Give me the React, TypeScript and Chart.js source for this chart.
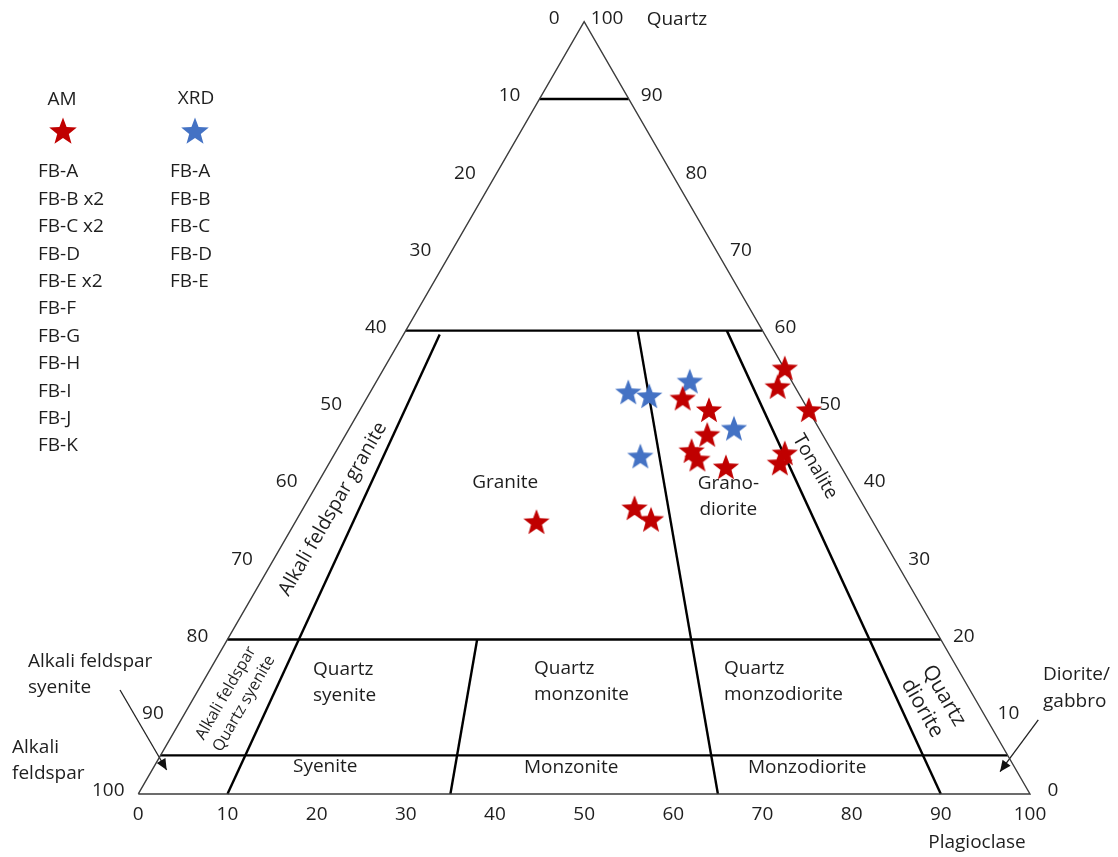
import React, { useEffect, useRef } from "react";
import { Chart, registerables } from "chart.js";

Chart.register(...registerables);

const FONT = '"Open Sans", "Noto Sans", sans-serif';
const TEXT_COLOR = "#1e1e1e";
const RED = "#C00000";
const BLUE = "#4472C4";

// ---------- data: modal composition in % (Quartz, Alkali feldspar, Plagioclase) ----------
const amQuartz = [55, 52.6, 49.6, 44, 42.7, 51.1, 49.6, 46.4, 44.3, 43.2, 42.2, 36.9, 35.4, 35.1];
const amAlkali = [0, 2, 0, 5.5, 6.7, 13.4, 11.2, 13, 15.8, 15.7, 13, 25.9, 24.8, 37.8];
const amPlag = [45, 45.4, 50.4, 50.5, 50.6, 35.5, 39.2, 40.6, 39.9, 41.1, 44.8, 37.2, 39.8, 27.1];

const xrdQuartz = [51.9, 51.4, 53.3, 47.2, 43.6];
const xrdAlkali = [19.1, 17, 11.5, 9.6, 21.9];
const xrdPlag = [29, 31.6, 35.2, 43.2, 34.5];

const legendAM = ["FB-A", "FB-B x2", "FB-C x2", "FB-D", "FB-E x2", "FB-F", "FB-G", "FB-H", "FB-I", "FB-J", "FB-K"];
const legendXRD = ["FB-A", "FB-B", "FB-C", "FB-D", "FB-E"];

// QAPF field boundaries
const quartzLevels = [90, 60, 20, 5];
const plagRatios = [10, 35, 65, 90];
const plagRatioTopQ = [59.5, 20, 60, 60];

// tick values
const sideTicks = [100, 90, 80, 70, 60, 50, 40, 30, 20, 10, 0];
const bottomTicks = [0, 10, 20, 30, 40, 50, 60, 70, 80, 90, 100];

// ---------- layout ----------
const W = 1118;
const HGT = 857;
const X_MIN = -15.51;
const X_MAX = 109.87;
const Y_MIN = -7.07;
const Y_MAX = 89.04;
const SQ3 = Math.sqrt(3) / 2;
const BASE_SIZE = 19;

type Lbl = { lines: string[]; x: number; y: number; rot: number; size: number; align: "center" | "left"; lh: number };

const fieldLabels: Lbl[] = [
  { lines: ["Granite"], x: 41.14, y: 34.88, rot: 0, size: BASE_SIZE, align: "center", lh: 26 },
  { lines: ["Grano-", "diorite"], x: 66.17, y: 33.31, rot: 0, size: BASE_SIZE, align: "center", lh: 26 },
  { lines: ["Tonalite"], x: 75.89, y: 36.71, rot: 60, size: BASE_SIZE, align: "center", lh: 26 },
  { lines: ["Alkali feldspar granite"], x: 21.83, y: 31.96, rot: -60, size: 19.5, align: "center", lh: 26 },
  { lines: ["Alkali feldspar", "Quartz syenite"], x: 10.84, y: 10.71, rot: -60, size: 16, align: "center", lh: 21 },
  { lines: ["Quartz", "syenite"], x: 19.59, y: 12.45, rot: 0, size: BASE_SIZE, align: "left", lh: 26 },
  { lines: ["Quartz", "monzonite"], x: 44.38, y: 12.56, rot: 0, size: BASE_SIZE, align: "left", lh: 26 },
  { lines: ["Quartz", "monzodiorite"], x: 65.68, y: 12.56, rot: 0, size: BASE_SIZE, align: "left", lh: 26 },
  { lines: ["Quartz", "diorite"], x: 89.12, y: 10.32, rot: 60, size: 21, align: "center", lh: 25 },
  { lines: ["Syenite"], x: 17.35, y: 3.03, rot: 0, size: BASE_SIZE, align: "left", lh: 26 },
  { lines: ["Monzonite"], x: 43.25, y: 2.92, rot: 0, size: BASE_SIZE, align: "left", lh: 26 },
  { lines: ["Monzodiorite"], x: 68.37, y: 2.92, rot: 0, size: BASE_SIZE, align: "left", lh: 26 },
  { lines: ["Alkali feldspar", "syenite"], x: -12.37, y: 13.35, rot: 0, size: BASE_SIZE, align: "left", lh: 26 },
  { lines: ["Alkali", "feldspar"], x: -14.16, y: 3.7, rot: 0, size: BASE_SIZE, align: "left", lh: 26 },
  { lines: ["Diorite/", "gabbro"], x: 101.46, y: 11.83, rot: 0, size: BASE_SIZE, align: "left", lh: 27 },
  { lines: ["Plagioclase"], x: 94.06, y: -5.5, rot: 0, size: BASE_SIZE, align: "center", lh: 26 },
  { lines: ["Quartz"], x: 57.01, y: 86.8, rot: 0, size: BASE_SIZE, align: "left", lh: 26 },
];

const arrows = [
  { x1: -2.05, y1: 11.66, x2: 3.18, y2: 2.69 },
  { x1: 100.93, y1: 8.3, x2: 96.64, y2: 2.5 },
];

function tern(q: number, a: number, p: number) {
  const s = q + a + p;
  return { x: ((p + q / 2) * 100) / s, y: (q * SQ3 * 100) / s };
}
function ratioPoint(q: number, r: number) {
  const rest = 100 - q;
  return tern(q, rest * (1 - r / 100), (rest * r) / 100);
}

function drawStar(ctx: CanvasRenderingContext2D, cx: number, cy: number, R: number, color: string) {
  const r = R * 0.42;
  ctx.save();
  ctx.beginPath();
  for (let i = 0; i < 10; i++) {
    const rad = i % 2 === 0 ? R : r;
    const ang = -Math.PI / 2 + (i * Math.PI) / 5;
    const px = cx + rad * Math.cos(ang);
    const py = cy + rad * Math.sin(ang);
    if (i === 0) ctx.moveTo(px, py);
    else ctx.lineTo(px, py);
  }
  ctx.closePath();
  ctx.fillStyle = color;
  ctx.fill();
  ctx.restore();
}

function makeStar(color: string, R: number): HTMLCanvasElement {
  const size = Math.ceil(R * 2 + 4);
  const c = document.createElement("canvas");
  c.width = size;
  c.height = size;
  const ctx = c.getContext("2d")!;
  drawStar(ctx, size / 2, size / 2, R, color);
  return c;
}

export default function App() {
  const ref = useRef<HTMLCanvasElement>(null);

  useEffect(() => {
    const canvas = ref.current;
    if (!canvas) return;
    const redStar = makeStar(RED, 13.8);
    const blueStar = makeStar(BLUE, 13.8);

    const lineDs = (pts: { x: number; y: number }[], width: number, color: string) => ({
      type: "scatter" as const,
      data: pts,
      showLine: true,
      borderColor: color,
      borderWidth: width,
      pointRadius: 0,
      fill: false,
      tension: 0,
      order: 2,
    });

    const datasets: any[] = [
      {
        label: "AM",
        data: amQuartz.map((q, i) => tern(q, amAlkali[i], amPlag[i])),
        pointStyle: redStar,
        pointRadius: 14,
        showLine: false,
        order: 0,
      },
      {
        label: "XRD",
        data: xrdQuartz.map((q, i) => tern(q, xrdAlkali[i], xrdPlag[i])),
        pointStyle: blueStar,
        pointRadius: 14,
        showLine: false,
        order: 0,
      },
      lineDs([tern(0, 100, 0), tern(0, 0, 100), tern(100, 0, 0), tern(0, 100, 0)], 1.4, "#3c3c3c"),
      ...quartzLevels.map((q) => lineDs([tern(q, 100 - q, 0), tern(q, 0, 100 - q)], 2.4, "#000")),
      ...plagRatios.map((r, i) => lineDs([ratioPoint(0, r), ratioPoint(plagRatioTopQ[i], r)], 2.4, "#000")),
    ];

    const textPlugin = {
      id: "qapfText",
      beforeDatasetsDraw(chart: any) {
        const ctx: CanvasRenderingContext2D = chart.ctx;
        const xs = chart.scales.x;
        const ys = chart.scales.y;
        const px = (v: number) => xs.getPixelForValue(v);
        const py = (v: number) => ys.getPixelForValue(v);
        ctx.save();
        ctx.fillStyle = TEXT_COLOR;
        ctx.textBaseline = "middle";
        ctx.font = `${BASE_SIZE}px ${FONT}`;
        ctx.textAlign = "center";
        // side ticks
        sideTicks.forEach((q) => {
          const L = tern(q, 100 - q, 0);
          const R = tern(q, 0, 100 - q);
          ctx.fillText(String(100 - q), px(L.x) - 30, py(L.y) - 3);
          ctx.fillText(String(q), px(R.x) + 23, py(R.y) - 3);
        });
        bottomTicks.forEach((r) => {
          const B = ratioPoint(0, r);
          ctx.fillText(String(r), px(B.x), py(B.y) + 21);
        });
        // field labels
        fieldLabels.forEach((l) => {
          ctx.save();
          ctx.font = `${l.size}px ${FONT}`;
          ctx.textAlign = l.align;
          ctx.translate(px(l.x), py(l.y));
          ctx.rotate((l.rot * Math.PI) / 180);
          const n = l.lines.length;
          l.lines.forEach((s, i) => ctx.fillText(s, 0, (i - (n - 1) / 2) * l.lh));
          ctx.restore();
        });
        // arrows
        ctx.strokeStyle = "#222";
        ctx.fillStyle = "#111";
        ctx.lineWidth = 1.3;
        arrows.forEach((a) => {
          const x1 = px(a.x1), y1 = py(a.y1), x2 = px(a.x2), y2 = py(a.y2);
          ctx.beginPath();
          ctx.moveTo(x1, y1);
          ctx.lineTo(x2, y2);
          ctx.stroke();
          const ang = Math.atan2(y2 - y1, x2 - x1);
          const Lh = 11, Wh = 5;
          ctx.beginPath();
          ctx.moveTo(x2, y2);
          ctx.lineTo(x2 - Lh * Math.cos(ang) + Wh * Math.sin(ang), y2 - Lh * Math.sin(ang) - Wh * Math.cos(ang));
          ctx.lineTo(x2 - Lh * Math.cos(ang) - Wh * Math.sin(ang), y2 - Lh * Math.sin(ang) + Wh * Math.cos(ang));
          ctx.closePath();
          ctx.fill();
        });
        ctx.restore();
      },
      afterDraw(chart: any) {
        const ctx: CanvasRenderingContext2D = chart.ctx;
        ctx.save();
        drawStar(ctx, 63, 132, 14.5, RED);
        drawStar(ctx, 195, 132, 14.5, BLUE);
        ctx.fillStyle = TEXT_COLOR;
        ctx.textBaseline = "middle";
        ctx.font = `${BASE_SIZE}px ${FONT}`;
        ctx.textAlign = "center";
        ctx.fillText("AM", 62, 100);
        ctx.fillText("XRD", 196, 99);
        ctx.textAlign = "left";
        legendAM.forEach((s, i) => ctx.fillText(s, 38, 172 + i * 27.4));
        legendXRD.forEach((s, i) => ctx.fillText(s, 170, 172 + i * 27.4));
        ctx.restore();
      },
    };

    const chart = new Chart(canvas, {
      type: "scatter",
      data: { datasets },
      options: {
        responsive: false,
        animation: false,
        events: [],
        layout: { padding: 0, autoPadding: false },
        plugins: { legend: { display: false }, tooltip: { enabled: false } },
        scales: {
          x: { type: "linear", min: X_MIN, max: X_MAX, display: false },
          y: { type: "linear", min: Y_MIN, max: Y_MAX, display: false },
        },
      },
      plugins: [textPlugin],
    });
    return () => chart.destroy();
  }, []);

  return (
    <div style={{ position: "absolute", left: 0, top: 0, width: W, height: HGT, background: "#fff" }}>
      <canvas ref={ref} width={W} height={HGT} style={{ display: "block" }} />
    </div>
  );
}
